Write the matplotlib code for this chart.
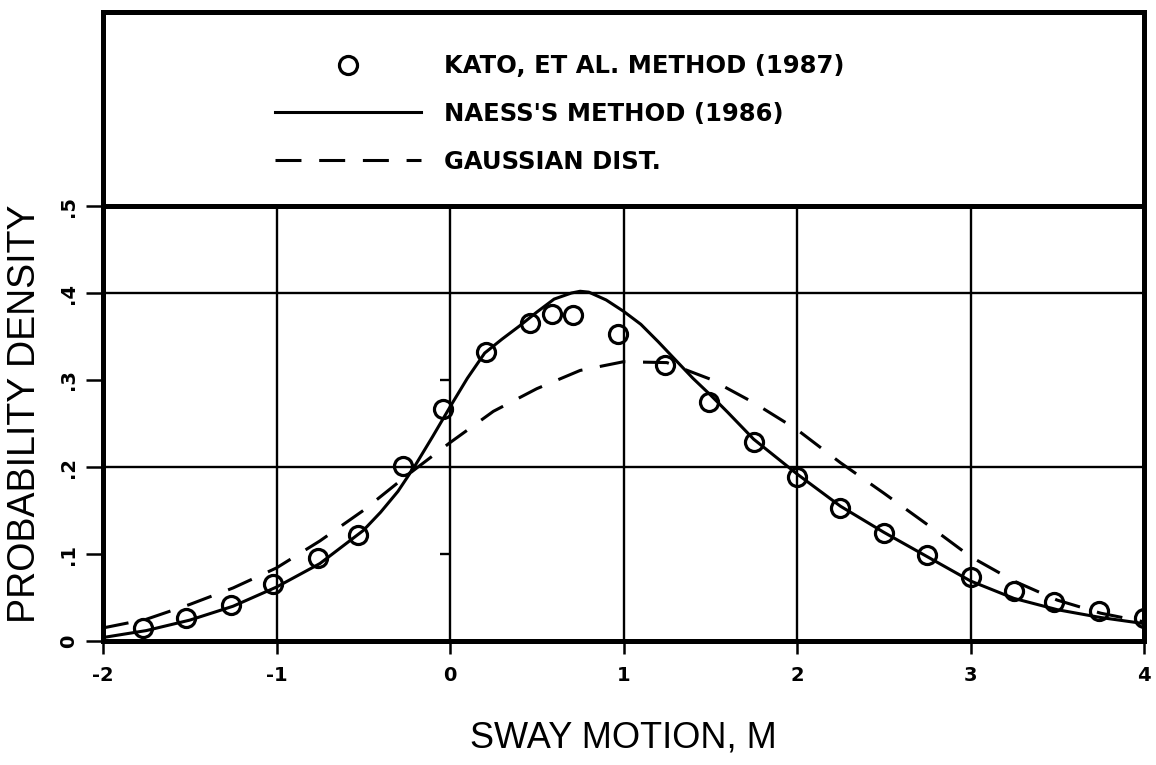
import matplotlib
matplotlib.use("Agg")
import matplotlib.pyplot as plt

# Kato, et al. method (1987) - plotted points
kato_x = [-1.77, -1.52, -1.26, -1.02, -0.76, -0.53, -0.27, -0.04, 0.21, 0.46,
          0.59, 0.71, 0.97, 1.24, 1.49, 1.75, 2.0, 2.25, 2.5, 2.75,
          3.0, 3.25, 3.48, 3.74, 4.0]
kato_y = [0.015, 0.027, 0.041, 0.066, 0.095, 0.122, 0.201, 0.267, 0.332, 0.365,
          0.376, 0.375, 0.353, 0.317, 0.275, 0.229, 0.189, 0.153, 0.124, 0.099,
          0.074, 0.058, 0.045, 0.034, 0.027]

# Naess's method (1986)
naess_x = [-2.0, -1.75, -1.5, -1.25, -1.0, -0.75, -0.5, -0.4, -0.3, -0.2,
           -0.1, 0.0, 0.1, 0.2, 0.3, 0.4, 0.5, 0.6, 0.7, 0.75,
           0.8, 0.9, 1.0, 1.1, 1.2, 1.3, 1.4, 1.5, 1.6, 1.75,
           2.0, 2.25, 2.5, 2.75, 3.0, 3.25, 3.5, 3.75, 4.0]
naess_y = [0.004, 0.012, 0.024, 0.040, 0.062, 0.089, 0.127, 0.148, 0.172, 0.202,
           0.235, 0.269, 0.302, 0.331, 0.347, 0.362, 0.378, 0.393, 0.400, 0.402,
           0.401, 0.392, 0.379, 0.364, 0.344, 0.323, 0.302, 0.283, 0.263, 0.232,
           0.192, 0.155, 0.125, 0.097, 0.069, 0.049, 0.036, 0.027, 0.020]

# Gaussian distribution
gauss_x = [-2.0, -1.75, -1.5, -1.25, -1.0, -0.75, -0.5, -0.25, 0.0, 0.25,
           0.5, 0.75, 1.0, 1.25, 1.5, 1.75, 2.0, 2.25, 2.5, 2.75,
           3.0, 3.25, 3.5, 3.75, 4.0]
gauss_y = [0.015, 0.025, 0.042, 0.061, 0.084, 0.115, 0.150, 0.190, 0.228, 0.264,
           0.290, 0.311, 0.321, 0.320, 0.301, 0.274, 0.243, 0.205, 0.170, 0.134,
           0.097, 0.069, 0.047, 0.032, 0.022]

x_ticks = [-2, -1, 0, 1, 2, 3, 4]
x_tick_labels = ["-2", "-1", "0", "1", "2", "3", "4"]
y_ticks = [0.0, 0.1, 0.2, 0.3, 0.4, 0.5]
y_tick_labels = ["0", ".1", ".2", ".3", ".4", ".5"]
grid_x = [-1, 0, 1, 2, 3]
grid_y = [0.2, 0.4]

series_labels = ["KATO, ET AL. METHOD (1987)", "NAESS'S METHOD (1986)", "GAUSSIAN DIST."]
x_label = "SWAY MOTION, M"
y_label = "PROBABILITY DENSITY"

W, H = 1156, 765
fig = plt.figure(figsize=(W / 100, H / 100), dpi=100)
fig.patch.set_facecolor("white")

# axes spans the data panel plus the legend panel above y = .5
ax = fig.add_axes([103 / W, 124 / H, 1041 / W, 629 / H])
ax.set_xlim(-2, 4)
ax.set_ylim(0, 0.723)

# grid: full-height verticals inside data panel, two horizontal rules
ax.vlines(grid_x, 0, 0.5, color="black", lw=1.7, zorder=1)
ax.hlines(grid_y, -2, 4, color="black", lw=1.7, zorder=1)
ax.hlines([0.1, 0.3], -0.06, 0, color="black", lw=1.7, zorder=1)
# divider between data and legend panels
ax.axhline(0.5, color="black", lw=3.6, zorder=2)

line_w = 2.2
pts, = ax.plot(kato_x, kato_y, ls="none", marker="o", ms=13, mfc="none",
               mec="black", mew=2.3, zorder=4)
naess, = ax.plot(naess_x, naess_y, color="black", lw=line_w, zorder=3,
                 solid_joinstyle="round")
gauss, = ax.plot(gauss_x, gauss_y, color="black", lw=line_w, dashes=(8.5, 5.8),
                 zorder=3)

for s in ax.spines.values():
    s.set_linewidth(3.6)
    s.set_color("black")

ax.set_xticks(x_ticks)
ax.set_xticklabels(x_tick_labels, fontsize=14, fontweight="bold", family="DejaVu Sans")
ax.set_yticks(y_ticks)
ax.set_yticklabels(y_tick_labels, fontsize=14, fontweight="bold", family="DejaVu Sans",
                   rotation=90, va="center")
ax.tick_params(axis="x", direction="out", length=9, width=1.8, pad=9)
ax.tick_params(axis="y", direction="out", length=12, width=1.8, pad=6)

ax.set_xlabel(x_label, fontsize=26, family="Liberation Sans")
ax.xaxis.set_label_coords(0.5, -0.127)
ax.set_ylabel(y_label, fontsize=27, family="Liberation Sans")
ax.yaxis.set_label_coords(-0.058, 0.362)

leg = ax.legend([pts, naess, gauss], series_labels, loc="upper left",
                bbox_to_anchor=(0.165, 0.933), frameon=False, borderpad=0,
                borderaxespad=0, numpoints=1, handlelength=6.0,
                handletextpad=0.95, labelspacing=0.98,
                prop={"family": "DejaVu Sans", "weight": "bold", "size": 17.5})

fig.savefig("out.png", dpi=100, facecolor="white")
